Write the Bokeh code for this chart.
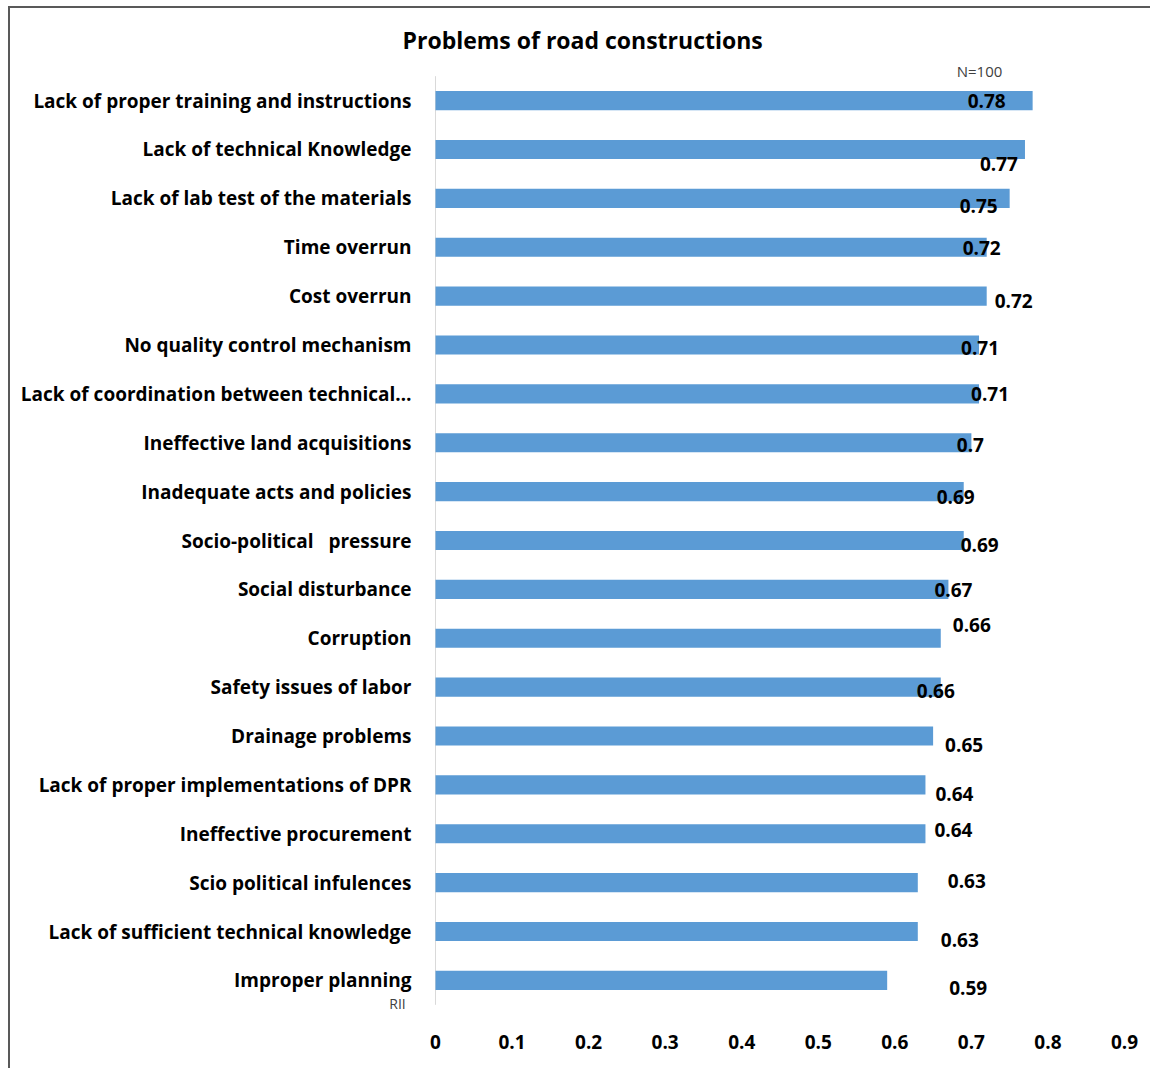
from bokeh.plotting import figure
from bokeh.models import FixedTicker, ColumnDataSource, Title, FactorRange
from bokeh.core.properties import value
from bokeh.embed import file_html
from bokeh.resources import INLINE

categories = [
    "Lack of proper training and instructions",
    "Lack of technical Knowledge",
    "Lack of lab test of the materials",
    "Time overrun",
    "Cost overrun",
    "No quality control mechanism",
    "Lack of coordination between technical\u2026",
    "Ineffective land acquisitions",
    "Inadequate acts and policies",
    "Socio-political\u00a0\u00a0 pressure",
    "Social disturbance",
    "Corruption",
    "Safety issues of labor",
    "Drainage problems",
    "Lack of proper implementations of DPR",
    "Ineffective procurement",
    "Scio political infulences",
    "Lack of sufficient technical knowledge",
    "Improper planning",
]
rii = [0.78, 0.77, 0.75, 0.72, 0.72, 0.71, 0.71, 0.70, 0.69, 0.69,
       0.67, 0.66, 0.66, 0.65, 0.64, 0.64, 0.63, 0.63, 0.59]
value_labels = ["0.78", "0.77", "0.75", "0.72", "0.72", "0.71", "0.71", "0.7", "0.69", "0.69",
                "0.67", "0.66", "0.66", "0.65", "0.64", "0.64", "0.63", "0.63", "0.59"]
x_ticks = [0, 0.1, 0.2, 0.3, 0.4, 0.5, 0.6, 0.7, 0.8, 0.9]
axis_title = "RII"
sample_note = "N=100"
chart_title = "Problems of road constructions"

# label placement offsets in pixels (styling only)
label_dx = [-46, -26, -31, -5, 27, 1, 11, -1, -8, 16, 5, 31, -5, 31, 29, 28, 49, 42, 81]
label_dy = [0, 15, 8, 1, 5, 3, 0, 2, 5, 4, 1, -13, 4, 9, 9, -4, -2, 8, 8]

FONT = "Open Sans"

src = ColumnDataSource(dict(cat=categories, v=rii, lab=value_labels, dx=label_dx, dy=label_dy))

y_range = FactorRange(factors=list(reversed(categories)), range_padding=0.3,
                      range_padding_units="absolute")

p = figure(width=1150, height=1068, output_backend="svg", toolbar_location=None,
           y_range=y_range, x_range=(-0.07184, 0.9),
           min_border_left=380, min_border_right=26, min_border_top=61, min_border_bottom=49)
p.styles = {"box-shadow": "inset 8px 6px 0 0 #ffffff, inset 10px 8px 0 0 #595959"}

# light vertical axis line at x = 0 spanning the category band
p.segment(x0=[0], y0=[(categories[0], 0.5)], x1=[0], y1=[(categories[-1], -0.5)],
          line_color="#d9d9d9", line_width=1)
p.hbar(y="cat", right="v", left=0, height=0.39, source=src, color="#5b9bd5", line_color=None)
p.text(x="v", y="cat", text="lab", source=src, x_offset="dx", y_offset="dy",
       text_align="center", text_baseline="middle", text_font=value(FONT),
       text_font_style="bold", text_font_size="19px", text_color="#000000")
p.text(x=[0], y=[categories[-1]], text=[axis_title], x_offset=-38, y_offset=23,
       text_align="center", text_baseline="middle", text_font=value(FONT),
       text_font_size="14px", text_color="#404040")
p.text(x=[x_ticks[-1]], y=[categories[0]], text=[sample_note], x_offset=-145, y_offset=-30,
       text_align="center", text_baseline="middle", text_font=value(FONT),
       text_font_size="15px", text_color="#404040")

p.outline_line_color = None
p.xgrid.grid_line_color = None
p.ygrid.grid_line_color = None
p.background_fill_color = "white"
p.border_fill_color = None

xa = p.xaxis[0]
xa.ticker = FixedTicker(ticks=x_ticks)
xa.major_label_overrides = {t: ("0" if t == 0 else f"{t:g}") for t in x_ticks}
xa.axis_line_color = None
xa.major_tick_line_color = None
xa.minor_tick_line_color = None
xa.major_label_standoff = 9
xa.major_label_text_font = FONT
xa.major_label_text_font_style = "bold"
xa.major_label_text_font_size = "19px"
xa.major_label_text_color = "#000000"

ya = p.yaxis[0]
ya.axis_line_color = None
ya.major_tick_line_color = None
ya.minor_tick_line_color = None
ya.major_label_standoff = -37
ya.major_label_text_font = FONT
ya.major_label_text_font_style = "bold"
ya.major_label_text_font_size = "19px"
ya.major_label_text_color = "#000000"

p.add_layout(Title(text=chart_title, align="left", offset=22,
                   standoff=12, text_font=FONT, text_font_style="bold",
                   text_font_size="23px", text_color="#000000"), "above")

open("out.html", "w").write(file_html(p, INLINE))
